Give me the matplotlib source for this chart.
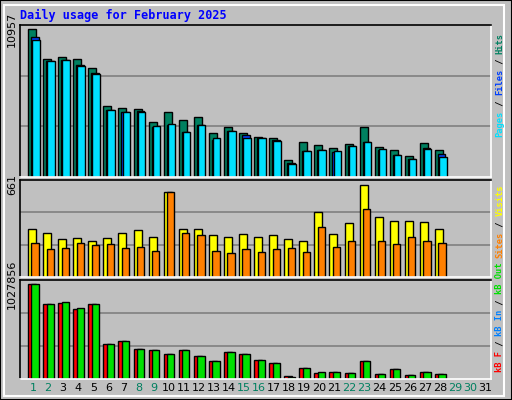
import matplotlib
matplotlib.use("Agg")
import matplotlib.pyplot as plt
import numpy as np
from matplotlib.patches import Rectangle

DAYS = list(range(1, 32))
WEEKENDS = {1, 2, 8, 9, 15, 16, 22, 23, 29, 30}

# values (28 days of data)
hits = [10957, 8750, 8900, 8750, 8080, 5260, 5100, 5030, 4070, 4810, 4220, 4440, 3260, 3700, 3260, 2960, 2890, 1260, 2580, 2370, 2150, 2440, 3700, 2220, 2000, 1550, 2520, 2000]
files = [10360, 8600, 8660, 8290, 7700, 4960, 4810, 4880, 3700, 3850, 3330, 3850, 2740, 3440, 3110, 2890, 2740, 1040, 1920, 1990, 1850, 2290, 2590, 1990, 1630, 1330, 2150, 1700]
pages = [10140, 8600, 8660, 8210, 7620, 4960, 4810, 4810, 3770, 3920, 3330, 3850, 2890, 3400, 2890, 2890, 2660, 960, 1920, 1990, 1920, 2290, 2590, 2070, 1630, 1330, 2070, 1480]
visits = [345, 316, 272, 279, 258, 279, 316, 337, 287, 611, 345, 345, 303, 287, 310, 287, 303, 272, 258, 468, 310, 389, 661, 429, 401, 401, 394, 345]
sites = [246, 203, 210, 246, 232, 239, 210, 217, 189, 606, 317, 303, 189, 174, 203, 181, 203, 210, 181, 358, 217, 260, 489, 260, 239, 289, 260, 246]
kb_f = [1027856, 814000, 825000, 758000, 814000, 375000, 409000, 330000, 319000, 274000, 319000, 251000, 195000, 296000, 274000, 206000, 172000, 30000, 116000, 60000, 71000, 60000, 195000, 49000, 105000, 38000, 71000, 49000]
kb_out = [1027856, 814000, 836000, 769000, 814000, 375000, 409000, 330000, 319000, 274000, 319000, 251000, 195000, 296000, 274000, 206000, 172000, 26000, 116000, 71000, 71000, 60000, 195000, 49000, 105000, 38000, 71000, 49000]
kb_in = [12000] * 28

BG = "#c0c0c0"
C_HITS, C_FILES, C_PAGES = "#008060", "#0040ff", "#00e0ff"
C_VIS, C_SITES = "#ffff00", "#ff8000"
C_F, C_IN, C_OUT = "#ff0000", "#0080ff", "#00e000"
MONO = "DejaVu Sans Mono"

fig = plt.figure(figsize=(5.12, 4.0), dpi=100, facecolor=BG)
W, H = 512, 400

# bevelled frame
fig.patches.append(Rectangle((4 / W, 4 / H), 500 / W, 391 / H, transform=fig.transFigure,
                             fill=False, edgecolor="white", lw=1.5))
fig.patches.append(Rectangle((0, 0), 1, 1, transform=fig.transFigure,
                             fill=False, edgecolor="black", lw=1.5))


def panel(top, bottom, ymax, top_label):
    ax = fig.add_axes([20 / W, 1 - bottom / H, 471 / W, (bottom - top) / H], facecolor=BG)
    ax.set_xlim(0.137, 31.39)
    ax.set_ylim(0, ymax)
    for f in (1 / 3, 2 / 3):
        ax.axhline(ymax * f, color="#808080", lw=1.2, zorder=0)
    ax.set_xticks([])
    ax.set_yticks([top_label])
    ax.set_yticklabels([str(top_label)], rotation=90, va="center", fontsize=8)
    ax.tick_params(axis="y", length=0, pad=2)
    for s in ax.spines.values():
        s.set_linewidth(1.2)
    ax.spines["bottom"].set_color("white")
    ax.spines["right"].set_color("white")
    return ax


d = np.arange(1, 29)
kw = dict(align="edge", edgecolor="black", linewidth=1)

ax1 = panel(25, 177, 11248, 10957)
ax1.bar(d - 0.33, hits, width=0.53, color=C_HITS, **kw)
ax1.bar(d - 0.13, files, width=0.5, color=C_FILES, **kw)
ax1.bar(d - 0.06, pages, width=0.5, color=C_PAGES, **kw)

ax2 = panel(180, 277, 694, 661)
ax2.bar(d - 0.33, visits, width=0.53, color=C_VIS, **kw)
ax2.bar(d - 0.1, sites, width=0.48, color=C_SITES, **kw)

ax3 = panel(280, 379, 1074000, 1027856)
ax3.bar(d - 0.33, kb_f, width=0.53, color=C_F, **kw)
ax3.bar(d - 0.3, kb_in, width=0.15, color=C_IN, align="edge", linewidth=0)
ax3.bar(d - 0.1, kb_out, width=0.48, color=C_OUT, **kw)
ax3.set_xticks(DAYS)
ax3.set_xticklabels([str(x) for x in DAYS], fontsize=8)
ax3.tick_params(axis="x", length=0, pad=3)
for lab, day in zip(ax3.get_xticklabels(), DAYS):
    lab.set_color("#008060" if day in WEEKENDS else "black")

fig.text(20 / W, 1 - 15 / H, "Daily usage for February 2025", color="#0000ff",
         family=MONO, fontsize=8.5, fontweight="bold", va="center")

# right-hand legends, stacked bottom to top
CH = 5.2  # px per character
def side_label(bottom_px, pieces):
    y = bottom_px
    for txt, col in pieces:
        fig.text(500 / W, 1 - y / H, txt, color=col, family=MONO, fontsize=6.3,
                 fontweight="bold", rotation=90, ha="center", va="bottom")
        y -= CH * len(txt)

side_label(137, [("Pages", C_PAGES), (" / ", "black"), ("Files", C_FILES), (" / ", "black"), ("Hits", C_HITS)])
side_label(258, [("Sites", C_SITES), (" / ", "black"), ("Visits", C_VIS)])
side_label(372, [("kB F", C_F), (" / ", "black"), ("kB In", C_IN), (" / ", "black"), ("kB Out", C_OUT)])

fig.savefig("out.png", dpi=100, facecolor=BG)
